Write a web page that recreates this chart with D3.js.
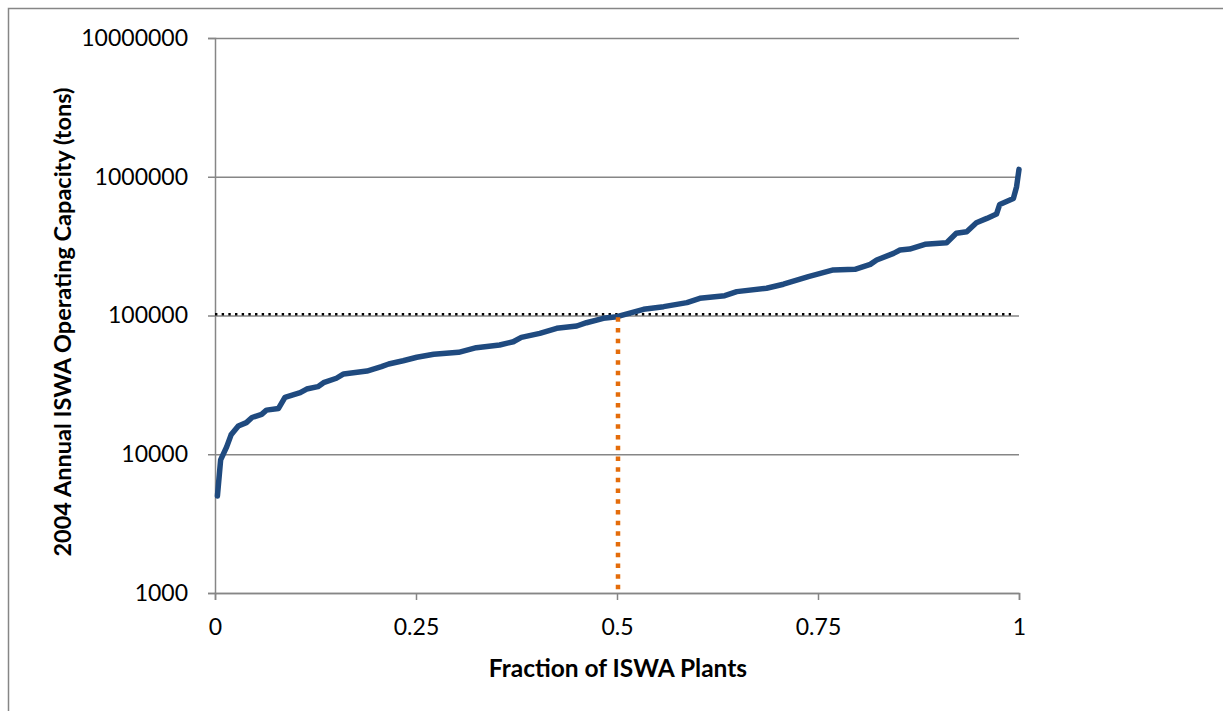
<!DOCTYPE html>
<html>
<head>
<meta charset="utf-8">
<script src="https://cdn.jsdelivr.net/npm/d3@7"></script>
<style>
  html, body { margin: 0; padding: 0; background: #fff; }
  svg { display: block; }
  text { font-family: Lato, "Open Sans", sans-serif; fill: #000; }
</style>
</head>
<body>
<svg id="chart" width="1223" height="711"></svg>
<script>
// ---- data ----
const fraction = [0.003, 0.007, 0.0145, 0.02, 0.029, 0.039, 0.046, 0.058, 0.064, 0.079, 0.087, 0.106, 0.114, 0.128, 0.135, 0.151, 0.16, 0.189, 0.207, 0.216, 0.234, 0.251, 0.272, 0.303, 0.325, 0.354, 0.371, 0.381, 0.404, 0.425, 0.45, 0.462, 0.483, 0.5, 0.533, 0.558, 0.587, 0.603, 0.634, 0.649, 0.686, 0.707, 0.738, 0.769, 0.796, 0.815, 0.823, 0.844, 0.852, 0.864, 0.883, 0.91, 0.922, 0.935, 0.947, 0.96, 0.972, 0.976, 0.993, 0.997, 1.0];
const capacity = [5000, 9100, 11300, 13800, 16000, 16900, 18400, 19400, 20800, 21400, 25700, 27800, 29500, 30700, 32800, 35300, 37900, 39800, 42800, 44700, 47200, 50000, 52500, 54300, 58600, 61300, 64700, 69600, 74400, 80900, 84000, 88700, 95400, 98000, 110800, 115800, 123800, 133000, 139000, 148600, 157200, 168000, 190500, 213000, 215000, 233600, 251000, 280600, 296500, 301400, 326000, 334800, 391000, 401700, 466500, 501000, 538500, 632000, 698000, 848000, 1130000];
const medianLineX = [0, 0.99];          // horizontal dotted reference line extent
const medianLineValue = 102000;         // level of the dotted reference line
const medianFraction = 0.5;             // vertical orange reference line position
const medianFractionRange = [1000, 97000];
const xTicks = [0, 0.25, 0.5, 0.75, 1];
const yTicks = [1000, 10000, 100000, 1000000, 10000000];
const xTitle = "Fraction of ISWA Plants";
const yTitle = "2004 Annual ISWA Operating Capacity (tons)";

// ---- layout ----
const svg = d3.select("#chart");
const margin = { left: 215, top: 38, right: 1223 - 1019, bottom: 711 - 593 };
const W = 1223 - margin.left - margin.right;
const H = 711 - margin.top - margin.bottom;
const gray = "#868686";
const font = "Lato, 'Open Sans', sans-serif";

// outer chart border
svg.append("rect").attr("x", 8.5).attr("y", 8.5).attr("width", 1400).attr("height", 900)
  .attr("fill", "none").attr("stroke", gray).attr("stroke-width", 1.5);

const g = svg.append("g").attr("transform", `translate(${margin.left},${margin.top})`);

const x = d3.scaleLinear().domain([0, 1]).range([0, W]);
const y = d3.scaleLog().domain([1000, 10000000]).range([H, 0]);

// gridlines
const grid = g.append("g").call(d3.axisLeft(y).tickValues(yTicks).tickSize(-W).tickFormat(""));
grid.select(".domain").remove();
grid.selectAll("line").attr("stroke", gray).attr("stroke-width", 1.5);

// y axis
const ya = g.append("g").call(d3.axisLeft(y).tickValues(yTicks).tickSize(7).tickPadding(20).tickFormat(d3.format("d")));
ya.select(".domain").attr("stroke", gray).attr("stroke-width", 1.5);
ya.selectAll("line").attr("stroke", gray).attr("stroke-width", 1.5);
ya.selectAll("text").attr("font-size", 23).attr("font-family", font).attr("fill", "#000");

// x axis
const xa = g.append("g").attr("transform", `translate(0,${H})`)
  .call(d3.axisBottom(x).tickValues(xTicks).tickSize(7).tickPadding(19).tickFormat(d => String(d)));
xa.select(".domain").attr("stroke", gray).attr("stroke-width", 1.5);
xa.selectAll("line").attr("stroke", gray).attr("stroke-width", 1.5);
xa.selectAll("text").attr("font-size", 23).attr("font-family", font).attr("fill", "#000");

// horizontal dotted reference line
g.append("line")
  .attr("x1", x(medianLineX[0])).attr("x2", x(medianLineX[1]))
  .attr("y1", y(medianLineValue)).attr("y2", y(medianLineValue))
  .attr("stroke", "#000").attr("stroke-width", 2.4).attr("stroke-dasharray", "2.4 4.27");

// main curve
const line = d3.line().x((d, i) => x(fraction[i])).y(d => y(d));
g.append("path").datum(capacity)
  .attr("d", line)
  .attr("fill", "none").attr("stroke", "#1f4a7f").attr("stroke-width", 5.5)
  .attr("stroke-linejoin", "round").attr("stroke-linecap", "round");

// vertical orange dotted line
g.append("line")
  .attr("x1", x(medianFraction) + 1).attr("x2", x(medianFraction) + 1)
  .attr("y1", y(medianFractionRange[1])).attr("y2", y(medianFractionRange[0]))
  .attr("stroke", "#e46c0a").attr("stroke-width", 4.5).attr("stroke-dasharray", "4.5 6.2");

// axis titles
svg.append("text").attr("x", margin.left + W / 2 + 1).attr("y", 677)
  .attr("text-anchor", "middle").attr("font-size", 24.5).attr("font-weight", "bold").text(xTitle);
svg.append("text").attr("transform", "translate(71,322) rotate(-90)")
  .attr("text-anchor", "middle").attr("font-size", 23.5).attr("font-weight", "bold").text(yTitle);
</script>
</body>
</html>
